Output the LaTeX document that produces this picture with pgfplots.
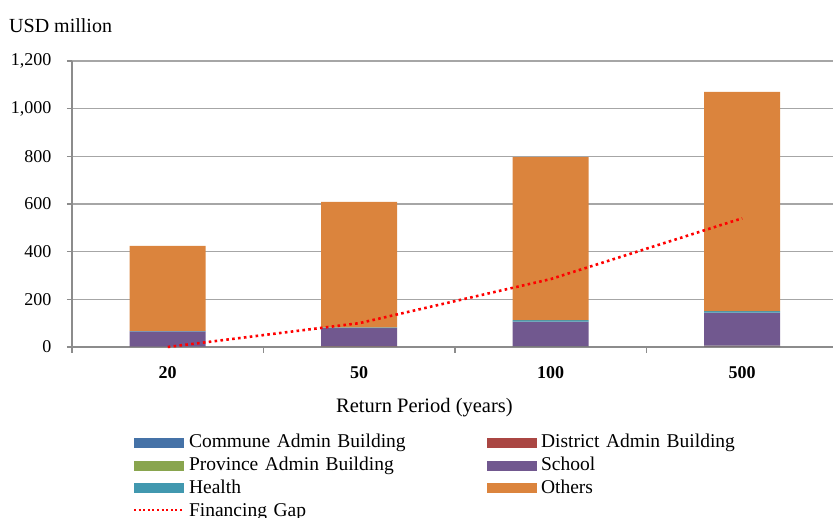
\documentclass[border=0pt]{standalone}
\usepackage{pgfplots}
\pgfplotsset{compat=1.18}
\usepackage{fontspec}
\setmainfont{Liberation Serif}
\definecolor{commune}{HTML}{4572A7}
\definecolor{district}{HTML}{AA4643}
\definecolor{province}{HTML}{89A54E}
\definecolor{school}{HTML}{71588F}
\definecolor{health}{HTML}{4198AF}
\definecolor{others}{HTML}{DB843D}
\definecolor{gridgray}{HTML}{A6A6A6}
\definecolor{axisgray}{HTML}{8C8C8C}
\begin{document}
\begin{tikzpicture}
\useasboundingbox (0,0) rectangle (833pt,518pt);
\begin{axis}[
  at={(72pt,171pt)}, anchor=south west,
  scale only axis, width=761pt, height=286pt,
  xmin=-0.5, xmax=3.474, ymin=0, ymax=1200,
  ybar stacked, bar width=76pt,
  reverse stacked plots=false,
  axis x line=bottom, axis y line=left,
  axis line style={-, draw=axisgray, line width=1.4pt},
  xtick={0,1,2,3}, xticklabels={20,50,100,500},
  major x tick style={draw=none},
  minor xtick={-0.5,0.5,1.5,2.5},
  minor tick length=6pt,
  minor x tick style={draw=axisgray, line width=1.4pt},
  ytick={0,200,400,600,800,1000,1200},
  tick align=outside, major tick length=5pt,
  major y tick style={draw=axisgray, line width=1.2pt},
  ymajorgrids, major grid style={draw=gridgray, line width=1.2pt},
  /pgf/number format/.cd, 1000 sep={,}, assume math mode=true, /pgfplots/.cd,
  yticklabel style={font=\fontsize{18}{20}\selectfont, xshift=-12pt},
  xticklabel style={font=\fontsize{18}{20}\selectfont\bfseries, yshift=-11pt},
  clip=false,
  legend columns=2,
  legend cell align=left,
  legend style={at={(axis description cs:0.0802,-0.303)}, anchor=north west,
    draw=none, fill=none, inner sep=0pt, outer sep=0pt,
    row sep=3.9pt, column sep=0pt,
    font=\fontsize{19.5}{22}\selectfont,
    nodes={inner xsep=4pt, inner ysep=0pt, text height=14pt, text depth=5pt, text width=294pt, anchor=west}},
  legend image code/.code={\fill[#1] (0pt,-4.5pt) rectangle (50pt,5.5pt);},
]
\addplot[fill=commune, draw=none] coordinates {(0,0.5) (1,1) (2,1.5) (3,3)};
\addlegendentry{Commune Admin Building}
\addplot[fill=district, draw=none] coordinates {(0,0.3) (1,0.5) (2,0.5) (3,1)};
\addlegendentry{District Admin Building}
\addplot[fill=province, draw=none] coordinates {(0,0.5) (1,1) (2,1) (3,2)};
\addlegendentry{Province Admin Building}
\addplot[fill=school, draw=none] coordinates {(0,64) (1,77) (2,103) (3,138)};
\addlegendentry{School}
\addplot[fill=health, draw=none] coordinates {(0,2) (1,3) (2,7) (3,7)};
\addlegendentry{Health}
\addplot[fill=others, draw=none] coordinates {(0,357) (1,526) (2,684) (3,919)};
\addlegendentry{Others}
\addplot[red, line width=2.6pt, dash pattern=on 2.6pt off 3.3pt, sharp plot, stack plots=false,
  legend image code/.code={\draw[red, line width=2pt, dash pattern=on 2pt off 2.6pt] (0pt,1.5pt) -- (50pt,1.5pt);}]
  coordinates {(0,0) (1,100) (2,285) (3,540)};
\addlegendentry{Financing Gap}
\end{axis}
\node[anchor=base west, inner sep=0pt, font=\fontsize{20}{22}\selectfont] at (9pt,485pt) {USD million};
\node[anchor=base west, inner sep=0pt, font=\fontsize{20.5}{22}\selectfont] at (336pt,105pt) {Return Period (years)};
\end{tikzpicture}
\end{document}
